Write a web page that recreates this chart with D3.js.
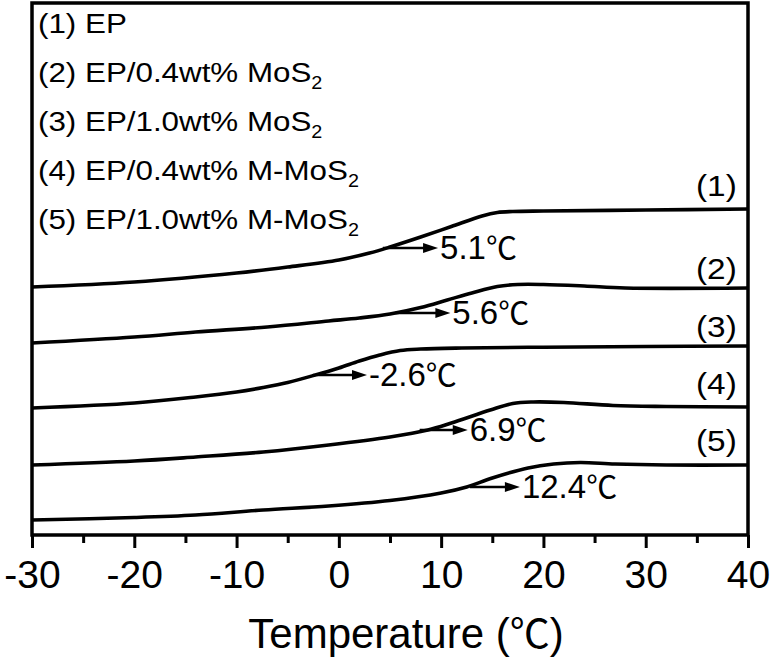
<!DOCTYPE html>
<html>
<head>
<meta charset="utf-8">
<script src="https://cdn.jsdelivr.net/npm/d3@7/dist/d3.min.js"></script>
<style>
  html, body { margin: 0; padding: 0; background: #fff; }
  svg { display: block; }
  text { font-family: "Liberation Sans", Arial, sans-serif; fill: #000; }
  .cjk { font-family: "Noto Sans CJK SC", "Noto Sans CJK JP", sans-serif; }
</style>
</head>
<body>
<svg id="chart" width="774" height="662"></svg>
<script>
// ---------- DATA (heat flow in arbitrary units, curves offset) ----------
const xTickValues = [-30, -20, -10, 0, 10, 20, 30, 40];
const xTickLabels = ["-30", "-20", "-10", "0", "10", "20", "30", "40"];
const xMinorTicks = [-25, -15, -5, 5, 15, 25, 35];
const xTitle = ["Temperature (", "℃", ")"];

const seriesNames = ["(1)", "(2)", "(3)", "(4)", "(5)"];
const legendLabels = [
  ["(1) EP", ""],
  ["(2) EP/0.4wt% MoS", "2"],
  ["(3) EP/1.0wt% MoS", "2"],
  ["(4) EP/0.4wt% M-MoS", "2"],
  ["(5) EP/1.0wt% M-MoS", "2"]
];

// [temperature °C, heat flow a.u.]
const curveEP = [[-30,24.8],[-20,25.3],[-10,26.2],[-5,26.8],[0,27.5],[3,28.2],[5,28.8],[8,29.8],[11,30.85],[14,31.9],[15.5,32.25],[17,32.35],[20,32.4],[30,32.5],[40,32.6]];
const curveMoS04 = [[-30,19.2],[-20,19.8],[-14,20.3],[-7,20.8],[-1,21.4],[2,21.7],[5,22.1],[8,22.75],[10.6,23.5],[13,24.2],[15.5,24.85],[17.5,25.05],[20,25.05],[24,24.9],[28,24.7],[40,24.7]];
const curveMoS10 = [[-30,12.7],[-20,13.2],[-14,13.8],[-10,14.3],[-7.4,14.75],[-5,15.25],[-2.3,16.0],[0,16.7],[2,17.4],[4,18.0],[6,18.45],[8,18.6],[12,18.7],[20,18.78],[30,18.85],[40,18.9]];
const curveMMoS04 = [[-30,7.0],[-20,7.4],[-14,7.8],[-7.4,8.3],[-1,9.0],[5,9.8],[8.7,10.5],[11,11.2],[14.8,12.5],[17,13.15],[19,13.3],[22,13.25],[26.8,12.95],[32,12.85],[40,12.8]];
const curveMMoS10 = [[-30,1.5],[-20,1.75],[-14,2.0],[-7.4,2.5],[-1,2.9],[5,3.45],[10,4.2],[12.5,4.8],[15,5.7],[18.5,6.7],[21,7.1],[23.6,7.25],[27,7.1],[32,7.0],[40,7.0]];
const curves = [curveEP, curveMoS04, curveMoS10, curveMMoS04, curveMMoS10];

// Tg annotations: value text, arrow start T, arrow tip T, heat-flow level
const tgValues = ["5.1", "5.6", "-2.6", "6.9", "12.4"];
const tgUnit = "℃";
const tgArrowStart = [4.3, 5.5, -2.1, 7.9, 12.8];
const tgArrowEnd = [9.7, 10.9, 2.75, 12.6, 17.7];
const tgArrowLevel = [28.7, 22.2, 16.0, 10.5, 4.8];

// curve-number label anchor (T, heat-flow level)
const seriesLabelT = [38.9, 38.9, 38.9, 38.9, 38.9];
const seriesLabelLevel = [33.9, 25.6, 19.8, 14.1, 8.4];

// ---------- LAYOUT ----------
const svg = d3.select("#chart");
const L = 32, R = 748, T = 3, B = 535;
const x = d3.scaleLinear().domain([-30, 40]).range([L, R]);
const y = d3.scaleLinear().domain([0, 53.2]).range([B, T]);

svg.append("defs").append("clipPath").attr("id", "clip")
  .append("rect").attr("x", L).attr("y", T).attr("width", R - L).attr("height", B - T);

// curves
const line = d3.line().x(d => x(d[0])).y(d => y(d[1])).curve(d3.curveCatmullRom.alpha(0.5));
svg.append("g").attr("clip-path", "url(#clip)")
  .selectAll("path").data(curves).join("path")
  .attr("d", line).attr("fill", "none").attr("stroke", "#000")
  .attr("stroke-width", 3.6).attr("stroke-linejoin", "round");

// arrows
const ag = svg.append("g");
tgValues.forEach((v, i) => {
  const x0 = x(tgArrowStart[i]), x1 = x(tgArrowEnd[i]), yy = y(tgArrowLevel[i]);
  ag.append("line").attr("x1", x0).attr("x2", x1 - 12).attr("y1", yy).attr("y2", yy)
    .attr("stroke", "#000").attr("stroke-width", 2.6);
  ag.append("path")
    .attr("d", `M${x1},${yy} L${x1 - 15},${yy - 5} L${x1 - 15},${yy + 5} Z`)
    .attr("fill", "#000");
  const t = ag.append("text").attr("x", x1 + 2).attr("y", yy + 11).attr("font-size", 33);
  t.append("tspan").text(v);
  t.append("tspan").attr("class", "cjk").attr("font-size", 31).text(tgUnit);
});

// series number labels
seriesNames.forEach((s, i) => {
  svg.append("text")
    .attr("transform", `translate(${x(seriesLabelT[i])},${y(seriesLabelLevel[i])}) scale(1.15,1)`)
    .attr("text-anchor", "end").attr("font-size", 29).text(s);
});

// legend
const lg = svg.append("g").attr("transform", `translate(38,0) scale(1.1,1)`);
legendLabels.forEach((lab, i) => {
  const t = lg.append("text").attr("x", 0).attr("y", 33 + i * 49).attr("font-size", 28.5);
  t.append("tspan").text(lab[0]);
  if (lab[1]) t.append("tspan").attr("font-size", 18).attr("dy", 7).text(lab[1]);
});

// axes
const axMajor = d3.axisBottom(x).tickValues(xTickValues)
  .tickFormat((d, i) => xTickLabels[i]).tickSize(13).tickPadding(0);
const gx = svg.append("g").attr("transform", `translate(0,${B})`).call(axMajor);
gx.select(".domain").remove();
gx.selectAll(".tick line").attr("stroke", "#000").attr("stroke-width", 3);
gx.selectAll(".tick text").attr("y", 53).attr("dy", 0)
  .attr("font-size", 39).attr("fill", "#000")
  .style("font-family", '"Liberation Sans", Arial, sans-serif');

const axMinor = d3.axisBottom(x).tickValues(xMinorTicks).tickFormat("").tickSize(8);
const gm = svg.append("g").attr("transform", `translate(0,${B})`).call(axMinor);
gm.select(".domain").remove();
gm.selectAll(".tick line").attr("stroke", "#000").attr("stroke-width", 3);

// frame
svg.append("rect").attr("x", L).attr("y", T).attr("width", R - L).attr("height", B - T)
  .attr("fill", "none").attr("stroke", "#000").attr("stroke-width", 3.5);

// title
const tt = svg.append("text").attr("x", 406).attr("y", 648).attr("text-anchor", "middle")
  .attr("font-size", 42);
tt.append("tspan").text(xTitle[0]);
tt.append("tspan").attr("class", "cjk").attr("font-size", 40).text(xTitle[1]);
tt.append("tspan").text(xTitle[2]);
</script>
</body>
</html>
